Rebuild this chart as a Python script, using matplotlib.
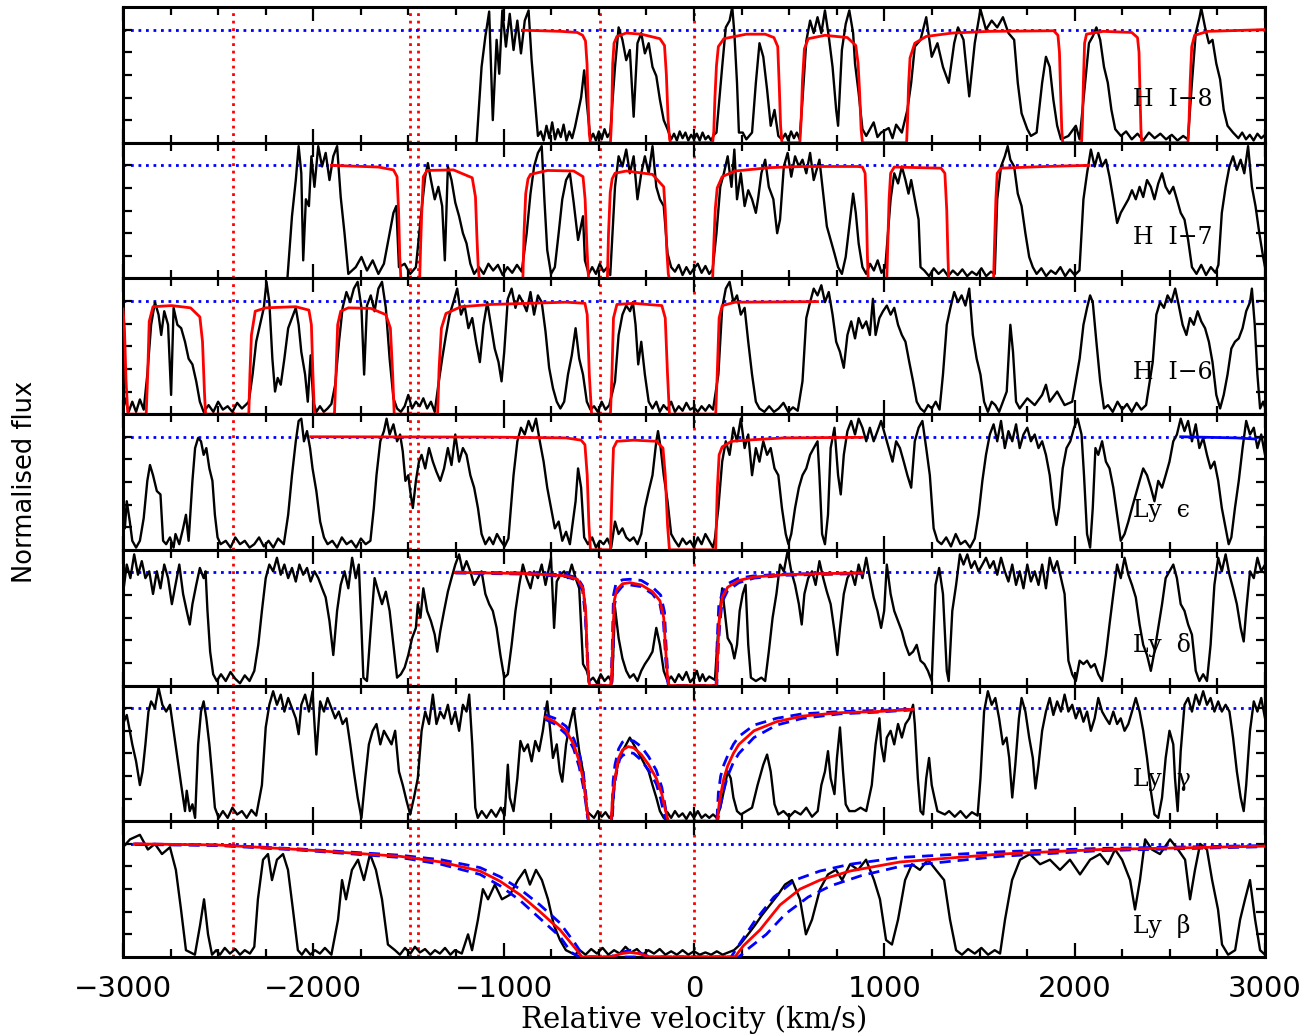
import numpy as np
import matplotlib
matplotlib.use("Agg")
import matplotlib.pyplot as plt
from matplotlib.ticker import MultipleLocator

# ---- spectra: (velocity km/s, normalised flux) ----
hi8_spec = [(-1142, 0), (-1116, 0.67), (-1096, 0.94), (-1076, 1.16), (-1057, 0.20), (-1037, 0.91), (-1023, 0.61),
            (-1007, 1.17), (-988, 0.85), (-968, 1.14), (-948, 0.82), (-928, 1.08), (-909, 0.79), (-889, 1.08),
            (-869, 1.17), (-853, 0.73), (-820, 0.06), (-805, 0.10), (-790, 0.02), (-775, 0.15), (-760, 0.04),
            (-745, 0.18), (-730, 0.03), (-715, 0.12), (-700, 0.05), (-685, 0.16), (-670, 0.02), (-655, 0.10),
            (-640, 0.04), (-625, 0.14), (-593, 0.40), (-577, 0.64), (-563, 0.35), (-544, 0.03), (-530, 0.08),
            (-515, 0.02), (-500, 0.10), (-485, 0.03), (-470, 0.12), (-455, 0.05), (-440, 0.09), (-415, 0.67),
            (-396, 1.02), (-376, 0.91), (-356, 0.73), (-337, 0.82), (-317, 0.23), (-297, 0.88), (-277, 0.97),
            (-258, 0.79), (-238, 0.88), (-218, 0.67), (-198, 0.59), (-179, 0.38), (-159, 0.20), (-139, 0.12),
            (-120, 0.03), (-105, 0.08), (-90, 0.02), (-75, 0.10), (-60, 0.04), (-45, 0.09), (-30, 0.02),
            (-15, 0.07), (0, 0.03), (15, 0.08), (30, 0.02), (45, 0.09), (60, 0.03), (75, 0.06), (90, 0.02),
            (105, 0.07), (118, 0.09), (148, 0.67), (167, 1.02), (187, 1.08), (201, 1.20), (212, 0.97),
            (226, 0.53), (236, 0.09), (256, 0.09), (275, 0.03), (305, 0.09), (325, 0.53), (344, 0.88),
            (364, 0.76), (384, 0.47), (403, 0.15), (423, 0.29), (443, 0.06), (462, 0.03), (480, 0.08),
            (495, 0.02), (510, 0.10), (525, 0.04), (540, 0.09), (555, 0.03), (570, 0.38), (590, 0.90),
            (610, 1.08), (629, 0.97), (649, 1.11), (669, 0.97), (688, 1.17), (708, 0.94), (728, 0.67),
            (747, 0.29), (757, 0.15), (777, 0.82), (797, 1.05), (816, 1.17), (836, 0.97), (846, 0.70),
            (865, 0.44), (885, 0.12), (905, 0.06), (944, 0.18), (964, 0.05), (983, 0.09), (1023, 0.13),
            (1043, 0.04), (1062, 0.16), (1092, 0.09), (1121, 0.29), (1141, 0.53), (1160, 0.85), (1190, 0.91),
            (1220, 1.11), (1249, 0.76), (1279, 0.88), (1308, 0.67), (1338, 0.53), (1367, 0.88), (1387, 1.02),
            (1416, 0.91), (1446, 0.41), (1475, 0.88), (1505, 1.18), (1534, 1.00), (1564, 1.08), (1593, 1.02),
            (1623, 1.11), (1652, 0.97), (1682, 0.91), (1701, 0.53), (1721, 0.26), (1751, 0.12), (1770, 0.06),
            (1800, 0.09), (1829, 0.53), (1849, 0.76), (1869, 0.67), (1888, 0.38), (1908, 0.15), (1928, 0.03),
            (1967, 0.06), (2006, 0.15), (2026, 0.03), (2055, 0.53), (2075, 0.88), (2095, 0.94), (2114, 1.02),
            (2134, 0.91), (2154, 0.67), (2174, 0.53), (2193, 0.29), (2213, 0.12), (2243, 0.06), (2270, 0.10),
            (2300, 0.03), (2330, 0.08), (2360, 0.02), (2390, 0.09), (2420, 0.04), (2450, 0.08), (2480, 0.03),
            (2510, 0.07), (2540, 0.02), (2570, 0.06), (2595, 0.03), (2616, 0.53), (2636, 0.97), (2656, 1.11),
            (2665, 1.19), (2685, 1.02), (2705, 0.88), (2724, 0.91), (2744, 0.70), (2764, 0.56), (2783, 0.29),
            (2803, 0.15), (2832, 0.09), (2860, 0.04), (2880, 0.09), (2900, 0.03), (2920, 0.07), (2940, 0.02),
            (2960, 0.08), (2980, 0.04), (3000, 0.07)]

hi7_spec = [(-2136, 0), (-2112, 0.55), (-2092, 0.87), (-2077, 1.17), (-2063, 0.93), (-2053, 0.16), (-2039, 0.70),
            (-2023, 0.64), (-2010, 1.08), (-1994, 0.81), (-1974, 1.17), (-1954, 0.99), (-1935, 1.11),
            (-1915, 0.87), (-1895, 1.08), (-1875, 1.17), (-1856, 0.72), (-1836, 0.40), (-1816, 0.04),
            (-1777, 0.10), (-1747, 0.19), (-1718, 0.07), (-1688, 0.16), (-1658, 0.04), (-1629, 0.13),
            (-1599, 0.40), (-1579, 0.58), (-1564, 0.64), (-1550, 0.10), (-1520, 0.13), (-1491, 0.04),
            (-1461, 0.10), (-1431, 0.61), (-1412, 0.90), (-1398, 1.02), (-1382, 0.87), (-1362, 0.70),
            (-1343, 0.81), (-1323, 0.64), (-1309, 0.16), (-1293, 0.99), (-1274, 0.87), (-1254, 0.67),
            (-1234, 0.55), (-1214, 0.40), (-1195, 0.31), (-1175, 0.13), (-1155, 0.04), (-1130, 0.10),
            (-1105, 0.04), (-1080, 0.13), (-1055, 0.07), (-1030, 0.12), (-1005, 0.03), (-980, 0.10),
            (-955, 0.05), (-930, 0.12), (-905, 0.06), (-879, 0.40), (-859, 0.75), (-840, 0.99), (-820, 1.11),
            (-800, 1.17), (-786, 0.70), (-771, 0.25), (-751, 0.04), (-731, 0.10), (-711, 0.40), (-692, 0.70),
            (-672, 0.87), (-652, 0.93), (-632, 0.67), (-609, 0.34), (-583, 0.55), (-573, 0.16), (-553, 0.04),
            (-535, 0.10), (-515, 0.04), (-495, 0.13), (-475, 0.06), (-455, 0.10), (-440, 0.03), (-415, 0.81),
            (-396, 1.08), (-376, 0.99), (-356, 1.14), (-337, 0.93), (-317, 1.08), (-297, 0.70), (-277, 0.93),
            (-258, 1.08), (-238, 0.93), (-218, 1.17), (-198, 0.81), (-179, 0.70), (-159, 0.64), (-139, 0.22),
            (-120, 0.10), (-100, 0.06), (-80, 0.12), (-60, 0.03), (-40, 0.10), (-20, 0.04), (0, 0.09),
            (20, 0.13), (40, 0.05), (60, 0.11), (80, 0.04), (98, 0.08), (118, 0.40), (138, 0.81), (157, 0.93),
            (177, 1.08), (197, 0.81), (212, 1.14), (226, 0.70), (246, 0.93), (266, 0.64), (285, 0.78),
            (305, 0.70), (325, 0.58), (338, 0.72), (354, 0.93), (374, 1.05), (393, 0.81), (417, 0.70),
            (437, 0.40), (452, 0.52), (472, 0.99), (492, 1.11), (511, 0.90), (531, 1.08), (551, 0.99),
            (570, 1.05), (590, 0.93), (610, 1.11), (629, 0.87), (659, 1.05), (679, 0.75), (698, 0.46),
            (718, 0.34), (738, 0.22), (757, 0.10), (777, 0.04), (797, 0.19), (816, 0.46), (836, 0.75),
            (850, 0.58), (865, 0.31), (885, 0.10), (905, 0.04), (925, 0.13), (945, 0.07), (965, 0.16),
            (985, 0.05), (1005, 0.10), (1033, 0.70), (1052, 0.93), (1072, 0.84), (1092, 0.99), (1111, 0.87),
            (1127, 0.75), (1141, 0.87), (1160, 0.70), (1180, 0.52), (1190, 0.10), (1210, 0.07), (1235, 0.02),
            (1260, 0.09), (1285, 0.04), (1310, 0.08), (1335, 0.02), (1360, 0.07), (1385, 0.03), (1410, 0.08),
            (1435, 0.02), (1460, 0.06), (1485, 0.03), (1510, 0.09), (1535, 0.02), (1560, 0.06), (1580, 0.04),
            (1593, 0.70), (1613, 0.99), (1633, 1.08), (1648, 1.17), (1662, 1.05), (1682, 0.99), (1701, 0.75),
            (1721, 0.64), (1741, 0.40), (1761, 0.19), (1780, 0.10), (1800, 0.04), (1825, 0.09), (1850, 0.02),
            (1875, 0.07), (1900, 0.04), (1925, 0.10), (1950, 0.02), (1975, 0.08), (2000, 0.03), (2025, 0.07),
            (2046, 0.70), (2065, 0.93), (2085, 1.14), (2105, 0.99), (2124, 1.11), (2144, 0.99), (2164, 1.05),
            (2183, 0.90), (2203, 0.70), (2223, 0.49), (2242, 0.58), (2262, 0.64), (2282, 0.70), (2301, 0.78),
            (2321, 0.70), (2341, 0.81), (2360, 0.72), (2380, 0.87), (2400, 0.81), (2419, 0.70), (2439, 0.84),
            (2459, 0.93), (2478, 0.81), (2498, 0.75), (2518, 0.81), (2537, 0.70), (2557, 0.58), (2577, 0.52),
            (2596, 0.34), (2616, 0.10), (2640, 0.04), (2665, 0.12), (2690, 0.03), (2715, 0.10), (2740, 0.05),
            (2755, 0.12), (2773, 0.58), (2793, 0.81), (2813, 0.99), (2832, 1.08), (2852, 0.96), (2872, 1.05),
            (2891, 0.93), (2911, 1.17), (2931, 0.81), (2950, 0.64), (2970, 0.40), (2990, 0.19), (3000, 0.10)]

hi6_spec = [(-3000, 0.05), (-2990, 0.14), (-2970, 0.02), (-2951, 0.11), (-2931, 0.02), (-2911, 0.13), (-2891, 0.04),
            (-2872, 0.35), (-2852, 0.79), (-2832, 0.99), (-2813, 0.88), (-2799, 0.70), (-2783, 0.91),
            (-2763, 0.79), (-2747, 0.17), (-2734, 0.94), (-2714, 0.79), (-2694, 0.76), (-2674, 0.64),
            (-2655, 0.49), (-2635, 0.44), (-2615, 0.29), (-2596, 0.11), (-2576, 0.02), (-2550, 0.08),
            (-2525, 0.02), (-2500, 0.11), (-2475, 0.04), (-2450, 0.07), (-2425, 0.02), (-2400, 0.10),
            (-2375, 0.05), (-2350, 0.09), (-2339, 0.11), (-2319, 0.35), (-2300, 0.64), (-2280, 0.79),
            (-2260, 0.94), (-2246, 1.17), (-2231, 0.99), (-2215, 0.49), (-2201, 0.20), (-2187, 0.32),
            (-2171, 0.26), (-2152, 0.49), (-2132, 0.76), (-2112, 0.85), (-2092, 0.94), (-2077, 0.79),
            (-2063, 0.55), (-2043, 0.35), (-2029, 0.11), (-2014, 0.52), (-2000, 0.11), (-1984, 0.02),
            (-1965, 0.07), (-1945, 0.02), (-1925, 0.05), (-1905, 0.09), (-1885, 0.26), (-1865, 0.64),
            (-1846, 0.94), (-1826, 1.08), (-1806, 0.99), (-1787, 1.11), (-1767, 1.17), (-1747, 0.94),
            (-1733, 0.35), (-1718, 0.96), (-1698, 1.05), (-1678, 0.91), (-1658, 1.11), (-1639, 1.17),
            (-1619, 0.94), (-1599, 0.49), (-1579, 0.14), (-1560, 0.05), (-1540, 0.02), (-1520, 0.07),
            (-1501, 0.17), (-1481, 0.05), (-1461, 0.11), (-1441, 0.07), (-1422, 0.14), (-1402, 0.05),
            (-1382, 0.11), (-1362, 0.02), (-1343, 0.26), (-1323, 0.49), (-1303, 0.70), (-1284, 0.88),
            (-1264, 0.99), (-1244, 1.11), (-1224, 0.88), (-1205, 0.96), (-1185, 0.76), (-1165, 0.85),
            (-1145, 0.64), (-1125, 0.46), (-1106, 0.79), (-1086, 0.99), (-1067, 0.79), (-1047, 0.58),
            (-1027, 0.46), (-1011, 0.29), (-997, 0.55), (-978, 1.02), (-958, 1.11), (-938, 0.94), (-918, 1.05),
            (-899, 0.99), (-879, 0.91), (-859, 1.08), (-840, 0.88), (-820, 1.05), (-800, 0.99), (-780, 0.73),
            (-761, 0.41), (-741, 0.23), (-721, 0.11), (-702, 0.05), (-682, 0.11), (-662, 0.35), (-642, 0.52),
            (-622, 0.76), (-603, 0.49), (-583, 0.35), (-563, 0.11), (-544, 0.04), (-525, 0.07), (-505, 0.02),
            (-485, 0.11), (-465, 0.04), (-445, 0.08), (-415, 0.29), (-396, 0.70), (-376, 0.88), (-356, 0.96),
            (-336, 0.91), (-321, 0.99), (-307, 0.79), (-293, 0.44), (-277, 0.64), (-258, 0.35), (-238, 0.11),
            (-218, 0.05), (-198, 0.11), (-180, 0.02), (-160, 0.08), (-140, 0.04), (-120, 0.11), (-100, 0.02),
            (-80, 0.07), (-60, 0.03), (-40, 0.10), (-20, 0.04), (0, 0.06), (20, 0.02), (40, 0.07), (60, 0.03),
            (80, 0.08), (100, 0.04), (128, 0.35), (148, 0.94), (167, 1.11), (187, 1.17), (207, 0.99),
            (226, 1.05), (246, 0.88), (266, 0.94), (285, 0.64), (305, 0.35), (325, 0.11), (344, 0.05),
            (370, 0.02), (395, 0.07), (420, 0.02), (445, 0.05), (470, 0.10), (495, 0.02), (520, 0.06),
            (545, 0.03), (570, 0.29), (590, 0.85), (610, 0.99), (629, 1.11), (649, 1.05), (669, 1.14),
            (688, 0.99), (708, 1.08), (728, 0.88), (747, 0.64), (767, 0.55), (787, 0.41), (806, 0.70),
            (826, 0.82), (846, 0.67), (865, 0.85), (885, 0.76), (905, 0.82), (924, 0.70), (940, 1.02),
            (954, 0.70), (974, 0.85), (993, 0.91), (1013, 0.96), (1033, 0.88), (1052, 0.94), (1072, 0.79),
            (1092, 0.70), (1111, 0.64), (1131, 0.46), (1151, 0.29), (1170, 0.11), (1190, 0.05), (1210, 0.02),
            (1230, 0.08), (1250, 0.05), (1270, 0.11), (1290, 0.04), (1308, 0.35), (1328, 0.79), (1347, 0.94),
            (1367, 1.08), (1387, 0.99), (1406, 1.05), (1426, 0.96), (1446, 1.11), (1465, 0.70), (1485, 0.49),
            (1505, 0.35), (1524, 0.11), (1544, 0.02), (1564, 0.11), (1583, 0.08), (1603, 0.02), (1623, 0.11),
            (1643, 0.20), (1662, 0.79), (1676, 0.55), (1692, 0.11), (1711, 0.05), (1751, 0.14), (1790, 0.08),
            (1829, 0.17), (1849, 0.26), (1869, 0.11), (1908, 0.20), (1947, 0.08), (1987, 0.11), (2026, 0.49),
            (2046, 0.79), (2065, 0.94), (2081, 1.05), (2095, 0.99), (2114, 0.64), (2134, 0.29), (2154, 0.05),
            (2175, 0.08), (2200, 0.02), (2225, 0.11), (2250, 0.04), (2275, 0.09), (2300, 0.02), (2325, 0.10),
            (2350, 0.04), (2375, 0.08), (2410, 0.46), (2429, 0.88), (2449, 0.99), (2469, 0.94), (2488, 1.05),
            (2508, 0.99), (2528, 1.11), (2547, 0.96), (2567, 0.79), (2587, 0.70), (2606, 0.85), (2626, 0.79),
            (2646, 0.91), (2665, 0.82), (2685, 0.76), (2705, 0.64), (2724, 0.46), (2744, 0.17), (2764, 0.05),
            (2783, 0.17), (2803, 0.35), (2823, 0.58), (2842, 0.64), (2862, 0.67), (2882, 0.76), (2901, 0.91),
            (2921, 0.99), (2931, 1.11), (2946, 0.79), (2960, 0.35), (2974, 0.05), (2990, 0.11), (3000, 0.06)]

lye_spec = [(-3000, 0.31), (-2990, 0.19), (-2980, 0.43), (-2964, 0.25), (-2951, 0.08), (-2931, 0.02), (-2911, 0.08),
            (-2891, 0.28), (-2872, 0.61), (-2858, 0.75), (-2842, 0.66), (-2822, 0.52), (-2803, 0.49),
            (-2789, 0.08), (-2773, 0.05), (-2753, 0.11), (-2734, 0.02), (-2724, 0.14), (-2704, 0.05),
            (-2684, 0.19), (-2669, 0.31), (-2655, 0.08), (-2635, 0.61), (-2621, 0.90), (-2605, 0.99),
            (-2590, 0.96), (-2576, 0.84), (-2562, 0.90), (-2546, 0.72), (-2530, 0.61), (-2517, 0.31),
            (-2503, 0.11), (-2487, 0.05), (-2460, 0.08), (-2435, 0.02), (-2410, 0.11), (-2385, 0.05),
            (-2360, 0.08), (-2335, 0.02), (-2310, 0.05), (-2285, 0.11), (-2260, 0.03), (-2235, 0.08),
            (-2210, 0.02), (-2185, 0.10), (-2155, 0.05), (-2132, 0.31), (-2112, 0.66), (-2092, 0.96),
            (-2077, 1.14), (-2063, 1.16), (-2049, 0.96), (-2033, 1.05), (-2017, 0.90), (-2004, 0.72),
            (-1984, 0.52), (-1964, 0.25), (-1944, 0.11), (-1925, 0.05), (-1900, 0.08), (-1875, 0.02),
            (-1850, 0.11), (-1825, 0.05), (-1800, 0.08), (-1775, 0.02), (-1750, 0.10), (-1725, 0.05),
            (-1700, 0.08), (-1682, 0.37), (-1668, 0.66), (-1648, 0.96), (-1629, 1.05), (-1615, 1.16),
            (-1599, 1.02), (-1579, 1.11), (-1560, 0.96), (-1544, 1.02), (-1530, 0.87), (-1516, 0.61),
            (-1501, 0.66), (-1491, 0.52), (-1477, 0.37), (-1461, 0.61), (-1445, 0.78), (-1431, 0.84),
            (-1412, 0.72), (-1392, 0.90), (-1372, 0.78), (-1353, 0.69), (-1333, 0.61), (-1313, 0.72),
            (-1293, 0.90), (-1274, 0.75), (-1254, 1.02), (-1234, 0.78), (-1214, 0.90), (-1195, 0.84),
            (-1175, 0.66), (-1155, 0.55), (-1135, 0.37), (-1116, 0.14), (-1096, 0.05), (-1075, 0.11),
            (-1055, 0.05), (-1035, 0.14), (-1015, 0.08), (-995, 0.03), (-975, 0.10), (-948, 0.66),
            (-928, 0.96), (-909, 1.08), (-889, 1.02), (-869, 1.14), (-849, 1.05), (-830, 1.16), (-810, 0.96),
            (-790, 0.78), (-771, 0.55), (-751, 0.37), (-731, 0.19), (-711, 0.25), (-692, 0.08), (-672, 0.16),
            (-652, 0.05), (-622, 0.43), (-609, 0.72), (-593, 0.55), (-577, 0.11), (-557, 0.05), (-535, 0.11),
            (-515, 0.02), (-495, 0.08), (-475, 0.05), (-455, 0.10), (-435, 0.02), (-415, 0.25), (-396, 0.14),
            (-376, 0.19), (-356, 0.11), (-337, 0.08), (-317, 0.11), (-297, 0.05), (-277, 0.14), (-258, 0.37),
            (-238, 0.52), (-218, 0.66), (-198, 0.96), (-189, 1.05), (-175, 0.90), (-159, 0.66), (-139, 0.43),
            (-120, 0.14), (-100, 0.08), (-80, 0.03), (-60, 0.10), (-40, 0.05), (-20, 0.08), (0, 0.02),
            (20, 0.11), (40, 0.05), (60, 0.14), (80, 0.08), (100, 0.02), (110, 0.10), (128, 0.37), (148, 0.78),
            (167, 0.96), (187, 0.84), (207, 1.08), (226, 0.96), (246, 1.16), (266, 0.90), (285, 1.02),
            (305, 0.66), (325, 0.90), (344, 0.78), (364, 0.96), (384, 0.84), (403, 0.90), (423, 0.72),
            (443, 0.66), (462, 0.37), (482, 0.14), (496, 0.05), (511, 0.14), (531, 0.37), (551, 0.55),
            (570, 0.66), (590, 0.72), (610, 0.84), (629, 0.90), (649, 0.96), (659, 0.66), (673, 0.14),
            (688, 0.05), (704, 0.31), (718, 0.90), (738, 1.08), (757, 0.66), (771, 0.49), (787, 0.84),
            (806, 1.05), (826, 1.14), (846, 1.02), (865, 1.16), (885, 1.08), (905, 0.96), (924, 1.08),
            (944, 0.96), (964, 1.05), (983, 1.14), (1003, 1.02), (1023, 0.90), (1043, 0.78), (1062, 0.96),
            (1082, 0.90), (1102, 0.78), (1121, 0.66), (1141, 0.55), (1160, 0.96), (1180, 1.08), (1200, 1.14),
            (1220, 0.90), (1239, 0.66), (1259, 0.19), (1279, 0.08), (1300, 0.05), (1325, 0.11), (1350, 0.03),
            (1375, 0.14), (1400, 0.05), (1425, 0.08), (1450, 0.02), (1475, 0.10), (1495, 0.31), (1515, 0.61),
            (1534, 0.84), (1554, 1.02), (1574, 1.11), (1593, 0.96), (1613, 1.14), (1633, 0.90), (1652, 1.05),
            (1672, 0.96), (1692, 1.11), (1711, 0.90), (1731, 1.02), (1751, 1.08), (1770, 0.96), (1790, 1.02),
            (1810, 0.90), (1829, 0.96), (1849, 0.84), (1869, 0.66), (1888, 0.37), (1904, 0.22), (1918, 0.37),
            (1937, 0.72), (1957, 0.90), (1977, 0.96), (1997, 1.08), (2016, 1.16), (2036, 1.02), (2049, 0.66),
            (2065, 0.14), (2081, 0.02), (2095, 0.37), (2109, 0.90), (2124, 0.84), (2144, 0.96), (2164, 0.78),
            (2183, 0.72), (2203, 0.55), (2223, 0.31), (2242, 0.08), (2262, 0.14), (2282, 0.25), (2301, 0.37),
            (2321, 0.49), (2341, 0.61), (2360, 0.72), (2380, 0.66), (2400, 0.55), (2419, 0.43), (2439, 0.61),
            (2459, 0.55), (2478, 0.66), (2498, 0.78), (2518, 0.96), (2537, 1.02), (2557, 1.16), (2577, 1.05),
            (2596, 1.14), (2616, 0.96), (2636, 1.11), (2655, 0.90), (2675, 0.99), (2695, 0.84), (2714, 0.72),
            (2734, 0.78), (2754, 0.61), (2773, 0.37), (2793, 0.19), (2809, 0.05), (2823, 0.11), (2842, 0.37),
            (2862, 0.61), (2882, 0.90), (2901, 1.14), (2921, 1.02), (2941, 1.08), (2960, 0.90), (2980, 1.02),
            (3000, 0.84)]

lyd_spec = [(-3000, 0.81), (-2980, 1.07), (-2961, 0.95), (-2941, 1.16), (-2921, 0.98), (-2901, 1.10), (-2882, 0.95),
            (-2862, 1.01), (-2842, 0.81), (-2822, 1.01), (-2803, 0.86), (-2783, 1.07), (-2763, 0.95),
            (-2743, 0.72), (-2724, 0.89), (-2704, 1.07), (-2684, 0.81), (-2665, 0.66), (-2649, 0.54),
            (-2635, 0.72), (-2615, 0.89), (-2596, 1.04), (-2576, 0.95), (-2566, 1.01), (-2556, 0.66),
            (-2542, 0.30), (-2526, 0.10), (-2507, 0.04), (-2485, 0.10), (-2460, 0.04), (-2435, 0.12),
            (-2410, 0.06), (-2385, 0.02), (-2360, 0.09), (-2335, 0.04), (-2310, 0.13), (-2289, 0.36),
            (-2270, 0.66), (-2250, 0.95), (-2231, 1.07), (-2211, 1.01), (-2191, 1.13), (-2171, 0.98),
            (-2152, 1.07), (-2132, 0.95), (-2112, 1.04), (-2092, 0.92), (-2073, 1.07), (-2053, 0.98),
            (-2033, 1.04), (-2014, 0.92), (-1994, 1.01), (-1974, 0.95), (-1954, 0.86), (-1935, 0.78),
            (-1915, 0.57), (-1895, 0.27), (-1875, 0.66), (-1856, 0.89), (-1836, 1.01), (-1816, 0.86),
            (-1796, 1.13), (-1777, 0.95), (-1761, 1.07), (-1747, 0.51), (-1737, 0.07), (-1718, 0.04),
            (-1698, 0.51), (-1678, 0.95), (-1658, 0.83), (-1639, 0.72), (-1619, 0.83), (-1599, 0.66),
            (-1579, 0.36), (-1560, 0.07), (-1540, 0.10), (-1520, 0.16), (-1501, 0.27), (-1481, 0.42),
            (-1461, 0.51), (-1451, 0.72), (-1437, 0.60), (-1422, 0.86), (-1402, 0.66), (-1382, 0.57),
            (-1362, 0.45), (-1349, 0.30), (-1333, 0.48), (-1313, 0.66), (-1293, 0.83), (-1274, 0.95),
            (-1254, 1.07), (-1234, 1.16), (-1215, 1.01), (-1195, 1.10), (-1175, 1.01), (-1155, 0.89),
            (-1135, 0.95), (-1116, 1.01), (-1096, 0.81), (-1076, 0.72), (-1057, 0.66), (-1037, 0.51),
            (-1017, 0.27), (-997, 0.07), (-978, 0.10), (-958, 0.36), (-938, 0.66), (-918, 0.89), (-899, 1.07),
            (-879, 0.95), (-859, 0.86), (-840, 1.01), (-820, 0.95), (-800, 1.07), (-780, 0.89), (-751, 1.13),
            (-735, 0.51), (-721, 0.92), (-702, 0.98), (-682, 1.01), (-662, 0.95), (-642, 1.07), (-622, 0.95),
            (-603, 0.86), (-583, 0.19), (-563, 0.13), (-549, 0.04), (-530, 0.07), (-510, 0.02), (-490, 0.10),
            (-470, 0.04), (-450, 0.08), (-430, 0.03), (-415, 0.69), (-396, 0.42), (-376, 0.24), (-356, 0.13),
            (-337, 0.07), (-317, 0.10), (-297, 0.04), (-277, 0.13), (-258, 0.19), (-238, 0.24), (-218, 0.30),
            (-198, 0.51), (-179, 0.36), (-159, 0.13), (-139, 0.04), (-120, 0.08), (-100, 0.03), (-80, 0.10),
            (-60, 0.05), (-40, 0.12), (-20, 0.03), (0, 0.07), (15, 0.13), (30, 0.04), (45, 0.10), (60, 0.04),
            (80, 0.08), (110, 0.05), (128, 0.51), (148, 0.86), (161, 0.66), (177, 0.42), (197, 0.36),
            (212, 0.24), (226, 0.36), (240, 0.66), (256, 0.81), (271, 0.89), (285, 0.36), (299, 0.07),
            (325, 0.04), (354, 0.07), (374, 0.04), (393, 0.30), (413, 0.60), (433, 0.81), (452, 1.07),
            (472, 1.01), (492, 1.19), (511, 1.01), (531, 0.89), (551, 0.72), (566, 0.54), (580, 0.81),
            (600, 0.95), (620, 1.01), (639, 0.89), (659, 1.10), (679, 0.95), (698, 0.83), (718, 0.72),
            (738, 0.48), (753, 0.27), (767, 0.51), (787, 0.81), (806, 0.95), (826, 1.01), (846, 0.89),
            (865, 1.07), (885, 0.95), (905, 1.13), (924, 0.95), (944, 0.78), (964, 0.66), (983, 0.51),
            (999, 0.66), (1013, 1.07), (1033, 0.81), (1052, 0.66), (1072, 0.57), (1092, 0.48), (1111, 0.36),
            (1131, 0.27), (1151, 0.30), (1170, 0.36), (1190, 0.22), (1210, 0.19), (1229, 0.13), (1249, 0.04),
            (1259, 0.48), (1269, 0.89), (1288, 1.04), (1308, 0.81), (1328, 0.13), (1338, 0.04), (1357, 0.66),
            (1377, 0.89), (1397, 1.16), (1416, 1.07), (1436, 1.16), (1456, 1.04), (1475, 1.10), (1495, 1.01),
            (1515, 1.07), (1534, 1.13), (1554, 1.04), (1574, 1.10), (1593, 0.98), (1613, 1.13), (1633, 1.01),
            (1652, 0.92), (1672, 1.07), (1692, 0.89), (1711, 1.01), (1731, 0.86), (1751, 1.07), (1770, 0.92),
            (1790, 1.01), (1810, 0.89), (1829, 1.07), (1849, 0.86), (1869, 1.13), (1888, 1.01), (1908, 1.10),
            (1928, 0.95), (1947, 0.81), (1967, 0.22), (1987, 0.10), (2006, 0.04), (2026, 0.22), (2046, 0.19),
            (2065, 0.22), (2085, 0.16), (2105, 0.19), (2124, 0.10), (2144, 0.04), (2164, 0.27), (2183, 0.54),
            (2203, 0.81), (2223, 1.07), (2242, 0.95), (2262, 1.13), (2282, 0.98), (2301, 0.89), (2321, 0.78),
            (2341, 0.54), (2360, 0.36), (2380, 0.27), (2400, 0.13), (2419, 0.30), (2439, 0.51), (2459, 0.72),
            (2478, 0.95), (2498, 1.01), (2518, 1.07), (2537, 0.95), (2557, 0.72), (2577, 0.66), (2596, 0.54),
            (2616, 0.45), (2636, 0.13), (2655, 0.04), (2675, 0.10), (2695, 0.04), (2714, 0.36), (2734, 0.89),
            (2754, 1.13), (2773, 1.01), (2793, 1.16), (2813, 0.98), (2832, 0.86), (2852, 0.72), (2872, 0.51),
            (2888, 0.39), (2901, 0.66), (2921, 1.01), (2941, 0.95), (2960, 1.13), (2980, 1.01), (3000, 1.07)]

lyg_spec = [(-3000, 0.86), (-2980, 0.94), (-2964, 0.80), (-2951, 0.68), (-2931, 0.53), (-2911, 0.32), (-2897, 0.44),
            (-2882, 0.68), (-2866, 0.97), (-2852, 1.06), (-2832, 1.00), (-2813, 1.18), (-2793, 1.03),
            (-2773, 0.97), (-2753, 1.03), (-2734, 0.80), (-2714, 0.56), (-2694, 0.32), (-2674, 0.09),
            (-2665, 0.27), (-2649, 0.09), (-2635, 0.15), (-2621, 0.03), (-2605, 0.68), (-2590, 0.97),
            (-2576, 1.06), (-2562, 0.91), (-2546, 0.68), (-2530, 0.38), (-2517, 0.12), (-2497, 0.03),
            (-2475, 0.09), (-2450, 0.03), (-2425, 0.12), (-2400, 0.06), (-2375, 0.09), (-2350, 0.03),
            (-2325, 0.10), (-2300, 0.05), (-2270, 0.32), (-2250, 0.83), (-2231, 1.03), (-2211, 1.15),
            (-2191, 1.03), (-2171, 1.12), (-2152, 0.97), (-2132, 1.09), (-2112, 1.00), (-2092, 0.91),
            (-2077, 0.77), (-2063, 1.03), (-2043, 1.12), (-2023, 0.97), (-2004, 1.15), (-1984, 0.59),
            (-1964, 1.06), (-1944, 0.97), (-1925, 1.09), (-1905, 1.00), (-1885, 0.91), (-1866, 0.97),
            (-1846, 0.86), (-1826, 0.91), (-1806, 0.68), (-1787, 0.44), (-1767, 0.21), (-1747, 0.03),
            (-1727, 0.38), (-1708, 0.68), (-1688, 0.80), (-1668, 0.86), (-1648, 0.68), (-1629, 0.80),
            (-1609, 0.74), (-1589, 0.68), (-1570, 0.80), (-1550, 0.44), (-1530, 0.32), (-1510, 0.18),
            (-1491, 0.06), (-1471, 0.21), (-1451, 0.38), (-1431, 0.80), (-1412, 0.97), (-1392, 0.86),
            (-1372, 1.12), (-1353, 0.86), (-1333, 0.97), (-1313, 0.91), (-1293, 1.03), (-1274, 0.86),
            (-1254, 0.97), (-1234, 0.80), (-1214, 1.03), (-1195, 0.97), (-1181, 1.12), (-1165, 0.68),
            (-1149, 0.12), (-1136, 0.03), (-1115, 0.09), (-1090, 0.03), (-1065, 0.10), (-1040, 0.04),
            (-1015, 0.12), (-995, 0.05), (-978, 0.50), (-968, 0.21), (-948, 0.09), (-928, 0.38), (-912, 0.71),
            (-893, 0.62), (-873, 0.68), (-853, 0.53), (-834, 0.71), (-814, 0.62), (-794, 0.80), (-780, 0.97),
            (-771, 1.06), (-755, 0.80), (-741, 0.56), (-721, 0.68), (-705, 0.44), (-692, 0.35), (-672, 0.68),
            (-652, 0.86), (-632, 1.00), (-617, 0.80), (-603, 0.62), (-583, 0.44), (-563, 0.09), (-545, 0.06),
            (-525, 0.03), (-505, 0.09), (-485, 0.04), (-465, 0.08), (-445, 0.03), (-430, 0.06), (-415, 0.38),
            (-396, 0.53), (-376, 0.62), (-356, 0.68), (-337, 0.74), (-317, 0.68), (-297, 0.62), (-277, 0.56),
            (-258, 0.50), (-238, 0.44), (-218, 0.32), (-198, 0.21), (-179, 0.09), (-159, 0.03), (-140, 0.08),
            (-120, 0.03), (-100, 0.09), (-80, 0.04), (-60, 0.07), (-40, 0.02), (-20, 0.08), (0, 0.03),
            (20, 0.09), (40, 0.03), (60, 0.06), (80, 0.03), (100, 0.06), (120, 0.03), (138, 0.12), (157, 0.27),
            (177, 0.44), (193, 0.38), (207, 0.21), (226, 0.09), (246, 0.06), (275, 0.09), (305, 0.12),
            (334, 0.32), (364, 0.50), (384, 0.59), (403, 0.44), (423, 0.15), (443, 0.06), (470, 0.09),
            (500, 0.04), (530, 0.09), (560, 0.06), (590, 0.12), (620, 0.04), (650, 0.09), (669, 0.32),
            (688, 0.44), (704, 0.62), (718, 0.38), (738, 0.24), (751, 0.56), (767, 0.83), (783, 0.44),
            (797, 0.15), (816, 0.09), (846, 0.09), (875, 0.12), (905, 0.09), (934, 0.32), (954, 0.68),
            (974, 0.91), (983, 0.68), (999, 0.53), (1013, 0.74), (1033, 0.80), (1052, 0.68), (1072, 0.86),
            (1092, 0.74), (1111, 0.86), (1131, 0.91), (1151, 1.03), (1160, 0.86), (1176, 0.38), (1190, 0.09),
            (1204, 0.06), (1220, 0.38), (1235, 0.56), (1249, 0.32), (1263, 0.21), (1279, 0.09), (1318, 0.06),
            (1340, 0.09), (1370, 0.04), (1400, 0.09), (1430, 0.03), (1460, 0.08), (1490, 0.05), (1505, 0.38),
            (1524, 0.97), (1544, 1.15), (1564, 1.03), (1583, 1.09), (1603, 0.91), (1623, 0.68), (1642, 0.74),
            (1656, 0.56), (1672, 0.21), (1688, 0.50), (1707, 0.91), (1721, 1.09), (1741, 0.97), (1761, 0.74),
            (1780, 0.56), (1794, 0.29), (1810, 0.50), (1829, 0.80), (1849, 0.97), (1869, 1.09), (1888, 0.94),
            (1908, 1.06), (1928, 0.97), (1947, 1.12), (1967, 0.97), (1987, 1.03), (2006, 0.91), (2026, 1.00),
            (2046, 0.88), (2065, 0.97), (2085, 0.80), (2105, 0.91), (2124, 1.09), (2144, 0.97), (2164, 0.91),
            (2183, 0.86), (2203, 0.97), (2223, 0.86), (2242, 0.91), (2262, 0.80), (2282, 0.86), (2301, 0.97),
            (2321, 1.09), (2341, 0.97), (2360, 0.80), (2380, 0.56), (2400, 0.27), (2419, 0.06), (2439, 0.03),
            (2459, 0.21), (2478, 0.56), (2498, 0.80), (2518, 0.68), (2527, 0.38), (2541, 0.09), (2557, 0.62),
            (2577, 1.03), (2596, 1.09), (2616, 0.97), (2636, 1.12), (2655, 1.03), (2675, 1.15), (2695, 1.03),
            (2714, 1.09), (2734, 0.97), (2754, 1.06), (2773, 0.97), (2793, 1.03), (2813, 0.97), (2832, 0.74),
            (2852, 0.44), (2872, 0.21), (2888, 0.09), (2901, 0.32), (2921, 0.80), (2941, 1.06), (2960, 0.97),
            (2980, 1.09), (3000, 0.91)]

lyb_spec = [(-3000, 0.97), (-2963, 1.04), (-2911, 1.08), (-2869, 0.95), (-2832, 1.00), (-2795, 0.91), (-2753, 0.97),
            (-2722, 0.77), (-2695, 0.42), (-2669, 0.06), (-2622, 0.02), (-2595, 0.28), (-2574, 0.51),
            (-2553, 0.20), (-2532, 0.02), (-2510, 0.06), (-2490, 0.02), (-2465, 0.08), (-2438, 0.03),
            (-2410, 0.07), (-2385, 0.02), (-2360, 0.06), (-2333, 0.03), (-2310, 0.09), (-2291, 0.51),
            (-2264, 0.86), (-2238, 0.91), (-2217, 0.68), (-2191, 0.86), (-2159, 0.91), (-2133, 0.77),
            (-2107, 0.42), (-2081, 0.06), (-2060, 0.02), (-2040, 0.07), (-2015, 0.02), (-1991, 0.06),
            (-1965, 0.03), (-1939, 0.08), (-1905, 0.02), (-1870, 0.33), (-1849, 0.68), (-1828, 0.51),
            (-1797, 0.77), (-1765, 0.86), (-1734, 0.68), (-1702, 0.91), (-1671, 0.77), (-1639, 0.51),
            (-1608, 0.11), (-1571, 0.06), (-1545, 0.02), (-1518, 0.08), (-1490, 0.03), (-1466, 0.09),
            (-1440, 0.04), (-1413, 0.07), (-1385, 0.02), (-1361, 0.06), (-1335, 0.03), (-1308, 0.08),
            (-1280, 0.02), (-1256, 0.06), (-1220, 0.03), (-1187, 0.20), (-1166, 0.06), (-1135, 0.33),
            (-1109, 0.60), (-1082, 0.51), (-1046, 0.64), (-1009, 0.51), (-967, 0.55), (-925, 0.68),
            (-888, 0.77), (-862, 0.64), (-830, 0.77), (-799, 0.68), (-767, 0.51), (-736, 0.28), (-704, 0.15),
            (-673, 0.06), (-625, 0.02), (-600, 0.06), (-570, 0.02), (-540, 0.07), (-510, 0.03), (-480, 0.08),
            (-450, 0.02), (-420, 0.06), (-390, 0.03), (-360, 0.09), (-330, 0.04), (-300, 0.07), (-270, 0.02),
            (-240, 0.06), (-210, 0.03), (-180, 0.07), (-150, 0.02), (-120, 0.05), (-90, 0.02), (-60, 0.06),
            (-30, 0.02), (0, 0.05), (30, 0.02), (60, 0.04), (90, 0.02), (120, 0.05), (150, 0.02), (180, 0.04),
            (210, 0.06), (242, 0.11), (284, 0.20), (320, 0.28), (357, 0.37), (399, 0.46), (441, 0.55),
            (478, 0.64), (515, 0.68), (557, 0.51), (588, 0.20), (620, 0.33), (662, 0.60), (704, 0.73),
            (746, 0.77), (778, 0.68), (820, 0.82), (862, 0.77), (904, 0.86), (946, 0.68), (977, 0.51),
            (1009, 0.15), (1040, 0.11), (1072, 0.33), (1109, 0.68), (1145, 0.82), (1187, 0.77), (1229, 0.86),
            (1271, 0.77), (1314, 0.68), (1345, 0.33), (1377, 0.06), (1408, 0.02), (1440, 0.07), (1475, 0.03),
            (1510, 0.08), (1545, 0.02), (1580, 0.06), (1608, 0.03), (1634, 0.33), (1671, 0.68), (1713, 0.86),
            (1765, 0.91), (1818, 0.82), (1870, 0.86), (1923, 0.77), (1975, 0.86), (2028, 0.73), (2081, 0.86),
            (2133, 0.91), (2175, 0.82), (2212, 0.95), (2249, 0.86), (2291, 0.68), (2317, 0.42), (2343, 0.68),
            (2370, 1.04), (2406, 0.95), (2448, 0.91), (2501, 1.04), (2543, 0.95), (2580, 0.86), (2606, 0.51),
            (2632, 0.77), (2659, 1.00), (2695, 0.95), (2722, 0.68), (2753, 0.42), (2774, 0.11), (2806, 0.02),
            (2843, 0.06), (2869, 0.33), (2895, 0.51), (2921, 0.68), (2948, 0.33), (2974, 0.06), (3000, 0.02)]

# ---- absorption models (red) and their bounds (blue dashed) ----
hi8_fit = [(-900, 0.995), (-700, 0.985), (-613, 0.975), (-585, 0.95), (-570, 0.90), (-562, 0.70), (-556, 0.35),
           (-550, 0.08), (-544, 0), (-439, 0), (-433, 0.2), (-427, 0.7), (-420, 0.88), (-405, 0.94), (-356, 0.97),
           (-277, 0.96), (-179, 0.92), (-155, 0.86), (-145, 0.6), (-136, 0.2), (-128, 0.03), (-123, 0),
           (98, 0), (104, 0.1), (110, 0.4), (118, 0.68), (128, 0.85), (157, 0.92), (275, 0.96), (374, 0.96),
           (420, 0.93), (440, 0.85), (448, 0.5), (455, 0.15), (462, 0), (556, 0), (563, 0.2), (570, 0.55),
           (580, 0.83), (600, 0.92), (688, 0.95), (806, 0.93), (850, 0.86), (862, 0.7), (870, 0.45), (878, 0.12),
           (885, 0), (1117, 0), (1122, 0.2), (1127, 0.5), (1135, 0.75), (1160, 0.88), (1220, 0.94), (1357, 0.97),
           (1554, 0.985), (1890, 0.99), (1912, 0.95), (1920, 0.8), (1926, 0.45), (1932, 0.12), (1937, 0),
           (2036, 0), (2041, 0.2), (2046, 0.55), (2052, 0.88), (2062, 0.96), (2150, 0.985), (2300, 0.975),
           (2330, 0.93), (2338, 0.8), (2343, 0.45), (2348, 0.12), (2352, 0), (2595, 0), (2601, 0.2),
           (2607, 0.55), (2615, 0.85), (2630, 0.95), (2700, 0.985), (2800, 0.99), (3000, 1.0)]

hi7_fit = [(-1905, 1.0), (-1658, 0.985), (-1579, 0.96), (-1560, 0.9), (-1552, 0.6), (-1546, 0.2), (-1540, 0),
           (-1441, 0), (-1436, 0.3), (-1431, 0.55), (-1422, 0.9), (-1402, 0.955), (-1264, 0.96), (-1165, 0.89),
           (-1148, 0.72), (-1140, 0.35), (-1133, 0.08), (-1128, 0), (-899, 0), (-893, 0.4), (-884, 0.75),
           (-872, 0.88), (-859, 0.92), (-770, 0.955), (-632, 0.95), (-583, 0.9), (-572, 0.7), (-563, 0.3),
           (-556, 0.05), (-553, 0), (-455, 0), (-449, 0.4), (-440, 0.76), (-430, 0.88), (-415, 0.93),
           (-356, 0.95), (-218, 0.92), (-159, 0.81), (-151, 0.6), (-143, 0.25), (-135, 0.04), (-130, 0),
           (98, 0), (104, 0.3), (112, 0.62), (122, 0.8), (148, 0.9), (216, 0.95), (400, 0.98), (570, 0.99),
           (860, 0.99), (885, 0.985), (899, 0.93), (906, 0.6), (911, 0.2), (915, 0), (1013, 0), (1018, 0.3),
           (1025, 0.7), (1033, 0.93), (1052, 0.985), (1298, 0.975), (1318, 0.93), (1328, 0.6), (1334, 0.2),
           (1338, 0), (1574, 0), (1579, 0.3), (1586, 0.7), (1593, 0.93), (1613, 0.975), (1849, 0.99), (2075, 1.0)]

hi6_fit = [(-3000, 0.93), (-2992, 0.75), (-2984, 0.3), (-2975, 0.02), (-2970, 0), (-2878, 0), (-2870, 0.35),
           (-2862, 0.82), (-2842, 0.95), (-2744, 0.96), (-2645, 0.94), (-2596, 0.86), (-2582, 0.64),
           (-2572, 0.2), (-2566, 0), (-2339, 0), (-2333, 0.35), (-2325, 0.7), (-2305, 0.91), (-2250, 0.94),
           (-2092, 0.95), (-2023, 0.92), (-2010, 0.79), (-2002, 0.35), (-1994, 0), (-1889, 0), (-1881, 0.35),
           (-1872, 0.79), (-1856, 0.91), (-1816, 0.94), (-1698, 0.935), (-1619, 0.88), (-1595, 0.76),
           (-1583, 0.35), (-1575, 0), (-1347, 0), (-1339, 0.41), (-1327, 0.76), (-1303, 0.89), (-1224, 0.95),
           (-1067, 0.97), (-869, 0.98), (-672, 0.99), (-573, 0.98), (-561, 0.88), (-550, 0.35), (-538, 0),
           (-439, 0), (-431, 0.35), (-423, 0.85), (-405, 0.97), (-317, 0.98), (-169, 0.96), (-151, 0.85),
           (-139, 0.35), (-129, 0), (114, 0), (122, 0.35), (132, 0.85), (148, 0.96), (216, 0.99), (649, 0.995)]

lye_fit = [(-2014, 1.0), (-1067, 0.997), (-672, 0.99), (-593, 0.97), (-573, 0.93), (-561, 0.66), (-552, 0.22),
           (-544, 0), (-439, 0), (-431, 0.52), (-423, 0.9), (-405, 0.96), (-317, 0.97), (-198, 0.96),
           (-163, 0.9), (-151, 0.66), (-139, 0.22), (-129, 0), (114, 0), (122, 0.52), (132, 0.84), (148, 0.91),
           (197, 0.96), (275, 0.97), (472, 0.99), (885, 0.995)]
lye_cont = [(2557, 1.0), (2700, 0.995), (2850, 0.99), (2950, 0.98)]

lyd_fit = [(-1254, 1.0), (-869, 0.99), (-672, 0.97), (-613, 0.94), (-583, 0.86), (-569, 0.66), (-561, 0.27),
           (-553, 0.04), (-547, 0), (-435, 0), (-427, 0.36), (-419, 0.75), (-405, 0.85), (-376, 0.9),
           (-337, 0.91), (-277, 0.89), (-218, 0.83), (-179, 0.75), (-159, 0.6), (-147, 0.27), (-139, 0.07),
           (-131, 0), (118, 0), (126, 0.36), (134, 0.6), (148, 0.78), (177, 0.87), (236, 0.93), (315, 0.96),
           (472, 0.98), (669, 0.99), (885, 0.995)]
lyd_hi = [(-1254, 1.003), (-869, 0.995), (-672, 0.978), (-613, 0.955), (-585, 0.88), (-572, 0.7), (-562, 0.35),
          (-553, 0.05), (-548, 0), (-437, 0), (-430, 0.3), (-423, 0.8), (-410, 0.9), (-376, 0.935),
          (-337, 0.94), (-277, 0.93), (-218, 0.87), (-175, 0.8), (-155, 0.65), (-145, 0.3), (-136, 0.05),
          (-132, 0), (116, 0), (122, 0.4), (130, 0.7), (148, 0.82), (177, 0.9), (236, 0.95), (315, 0.97),
          (472, 0.985), (885, 0.997)]
lyd_lo = [(-1254, 0.995), (-869, 0.985), (-672, 0.963), (-613, 0.93), (-585, 0.84), (-570, 0.6), (-560, 0.22),
          (-552, 0.03), (-546, 0), (-433, 0), (-425, 0.3), (-419, 0.7), (-405, 0.82), (-376, 0.88),
          (-337, 0.89), (-277, 0.875), (-218, 0.81), (-179, 0.72), (-160, 0.55), (-148, 0.22), (-140, 0.05),
          (-134, 0), (120, 0), (128, 0.35), (136, 0.55), (148, 0.74), (177, 0.84), (236, 0.91), (315, 0.95),
          (472, 0.975), (885, 0.99)]

lyg_fit = [(-780, 0.92), (-731, 0.88), (-672, 0.8), (-632, 0.68), (-603, 0.53), (-583, 0.38), (-569, 0.21),
           (-561, 0.09), (-553, 0), (-435, 0), (-427, 0.24), (-415, 0.38), (-396, 0.56), (-376, 0.63),
           (-346, 0.66), (-317, 0.65), (-277, 0.59), (-238, 0.5), (-198, 0.38), (-169, 0.24), (-149, 0.09),
           (-135, 0), (122, 0), (134, 0.18), (157, 0.38), (177, 0.49), (207, 0.6), (236, 0.68), (315, 0.8),
           (433, 0.88), (570, 0.93), (767, 0.96), (964, 0.97), (1151, 0.99)]
lyg_hi = [(-780, 0.94), (-731, 0.91), (-672, 0.84), (-632, 0.73), (-603, 0.6), (-583, 0.45), (-569, 0.25),
          (-561, 0.1), (-556, 0), (-433, 0), (-425, 0.35), (-415, 0.5), (-396, 0.64), (-376, 0.7), (-346, 0.72),
          (-317, 0.71), (-277, 0.66), (-238, 0.57), (-198, 0.45), (-169, 0.3), (-150, 0.12), (-140, 0),
          (120, 0), (128, 0.25), (140, 0.4), (157, 0.5), (177, 0.58), (207, 0.68), (236, 0.75), (315, 0.85),
          (433, 0.91), (570, 0.95), (767, 0.97), (964, 0.98), (1151, 0.99)]
lyg_lo = [(-780, 0.9), (-731, 0.86), (-672, 0.77), (-632, 0.64), (-603, 0.48), (-583, 0.32), (-569, 0.17),
          (-561, 0.06), (-555, 0), (-430, 0), (-420, 0.3), (-405, 0.45), (-390, 0.55), (-376, 0.58),
          (-346, 0.61), (-317, 0.6), (-277, 0.54), (-238, 0.45), (-198, 0.33), (-175, 0.2), (-160, 0.08),
          (-150, 0), (124, 0), (134, 0.1), (157, 0.28), (177, 0.4), (207, 0.52), (236, 0.6), (315, 0.74),
          (433, 0.85), (570, 0.91), (767, 0.95), (964, 0.965), (1151, 0.985)]

lyb_fit = [(-2940, 1.0), (-2500, 0.99), (-2070, 0.95), (-1545, 0.89), (-1330, 0.84), (-1124, 0.76),
           (-1019, 0.67), (-914, 0.55), (-809, 0.4), (-704, 0.24), (-625, 0.08), (-588, 0), (-441, 0),
           (-380, 0.03), (-336, 0.04), (-290, 0.03), (-231, 0), (215, 0), (260, 0.1), (347, 0.24), (452, 0.46),
           (557, 0.6), (662, 0.68), (820, 0.76), (1082, 0.84), (1608, 0.91), (2133, 0.95), (3000, 0.98)]
lyb_hi = [(-2940, 1.0), (-2500, 0.99), (-2070, 0.955), (-1545, 0.9), (-1330, 0.86), (-1124, 0.79),
          (-1019, 0.71), (-914, 0.6), (-809, 0.46), (-704, 0.3), (-625, 0.12), (-578, 0), (-441, 0),
          (-380, 0.04), (-336, 0.06), (-290, 0.04), (-231, 0), (195, 0), (245, 0.13), (320, 0.32),
          (420, 0.53), (530, 0.68), (662, 0.76), (820, 0.82), (1082, 0.88), (1608, 0.93), (2133, 0.96),
          (3000, 0.985)]
lyb_lo = [(-2940, 0.995), (-2500, 0.985), (-2070, 0.945), (-1545, 0.88), (-1330, 0.82), (-1124, 0.73),
          (-1019, 0.63), (-914, 0.5), (-809, 0.34), (-704, 0.18), (-645, 0.04), (-600, 0), (-231, 0),
          (235, 0), (290, 0.08), (380, 0.2), (480, 0.38), (600, 0.53), (720, 0.63), (880, 0.72),
          (1082, 0.8), (1608, 0.89), (2133, 0.94), (3000, 0.975)]

panels = [
    ("H  I\u22128", hi8_spec, hi8_fit, None, None, 0.38),
    ("H  I\u22127", hi7_spec, hi7_fit, None, None, 0.36),
    ("H  I\u22126", hi6_spec, hi6_fit, None, None, 0.37),
    ("Ly  \u03f5", lye_spec, lye_fit, None, None, 0.35),
    ("Ly  \u03b4", lyd_spec, lyd_fit, lyd_hi, lyd_lo, 0.36),
    ("Ly  \u03b3", lyg_spec, lyg_fit, lyg_hi, lyg_lo, 0.37),
    ("Ly  \u03b2", lyb_spec, lyb_fit, lyb_hi, lyb_lo, 0.27),
]

# velocities of the marked components
comp_v = [-2420, -1490, -1450, -495, 0]

fig = plt.figure(figsize=(13.15, 10.34), dpi=100)
axes = fig.subplots(7, 1, sharex=True, gridspec_kw=dict(hspace=0))
fig.subplots_adjust(left=0.0935, right=0.962, top=0.9932, bottom=0.0745)


def xy(pairs):
    a = np.array(pairs, dtype=float)
    return a[:, 0], a[:, 1]


for i, (ax, (name, spec, fit, hi, lo, ty)) in enumerate(zip(axes, panels)):
    ax.set_xlim(-3000, 3000)
    ax.set_ylim(0, 1.2)

    for v in comp_v:
        ax.axvline(v, color="red", ls=(0, (1, 1.7)), lw=2.0, zorder=1)
    for lev in (0, 1):
        ax.axhline(lev, color="blue", ls=(0, (1, 1.7)), lw=2.0, zorder=1)

    v, f = xy(spec)
    ax.plot(v, f, color="black", lw=1.7, zorder=3)

    if hi is not None:
        hv, hf = xy(hi)
        lv, lf = xy(lo)
        ax.plot(hv, hf, color="blue", lw=2.0, ls=(0, (4, 2.5)), zorder=4)
        ax.plot(lv, lf, color="blue", lw=2.0, ls=(0, (4, 2.5)), zorder=4)
    mv, mf = xy(fit)
    ax.plot(mv, mf, color="red", lw=2.0, zorder=5)
    if name.startswith("Ly  \u03f5"):
        cv, cf = xy(lye_cont)
        ax.plot(cv, cf, color="blue", lw=2.0, zorder=5)

    ax.text(2307, ty, name, fontsize=17, family="DejaVu Serif", ha="left", va="center", zorder=6)

    for s in ax.spines.values():
        s.set_linewidth(2.2)
    ax.xaxis.set_major_locator(MultipleLocator(1000))
    ax.xaxis.set_minor_locator(MultipleLocator(250))
    ax.set_yticks([0.2, 0.4, 0.6, 0.8, 1.0])
    ax.tick_params(axis="x", which="major", direction="in", top=True, bottom=True, length=10, width=1.6)
    ax.tick_params(axis="x", which="minor", direction="in", top=True, bottom=True, length=6, width=1.6)
    ax.tick_params(axis="y", which="major", direction="in", left=True, right=True, length=6.5, width=1.6,
                   labelleft=False)
    if i < 6:
        ax.tick_params(axis="x", labelbottom=False)

axes[-1].tick_params(axis="x", labelsize=21, pad=13)
axes[-1].set_xticks([-3000, -2000, -1000, 0, 1000, 2000, 3000])
axes[-1].set_xticklabels(["\u22123000", "\u22122000", "\u22121000", "0", "1000", "2000", "3000"])

fig.text(694 / 1315, 1 - 1020 / 1034, "Relative velocity (km/s)", fontsize=21, family="DejaVu Serif",
         ha="center", va="center")
fig.text(25 / 1315, 1 - 482 / 1034, "Normalised flux", fontsize=18.5, rotation=90, ha="center", va="center")

fig.savefig("out.png", dpi=100)
